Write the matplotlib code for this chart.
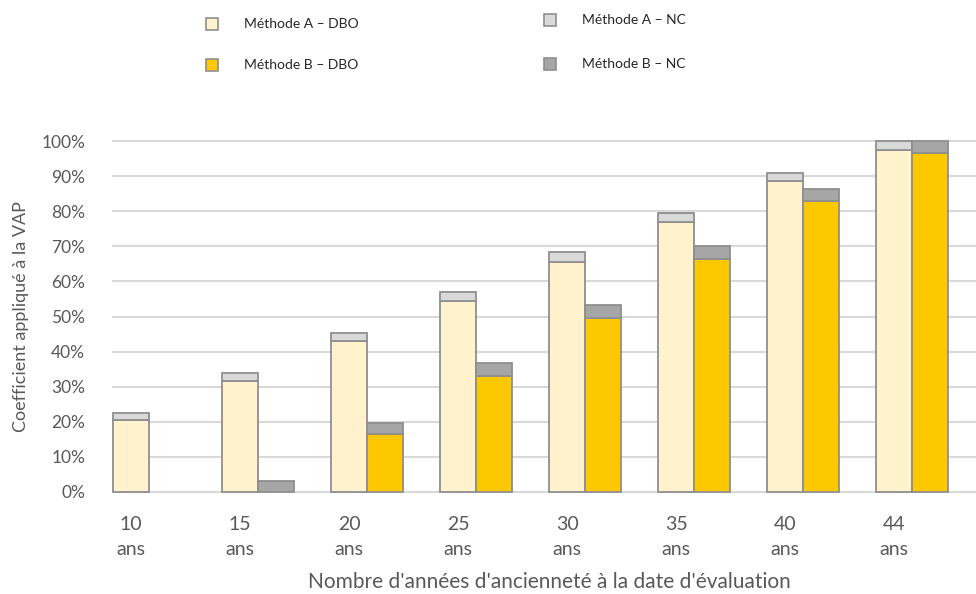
import matplotlib
matplotlib.use("Agg")
import matplotlib.pyplot as plt
from matplotlib.patches import Rectangle
from matplotlib.ticker import PercentFormatter

plt.rcParams["font.family"] = ["Lato", "DejaVu Sans"]

# ----------------------------------------------------------------------
# DATA (% of VAP)
# ----------------------------------------------------------------------
anciennete = ["10\nans", "15\nans", "20\nans", "25\nans", "30\nans", "35\nans", "40\nans", "44\nans"]
a_dbo = [20.5, 31.5, 43.0, 54.5, 65.5, 77.0, 88.5, 97.5]
a_nc = [2.0, 2.4, 2.3, 2.5, 2.8, 2.6, 2.4, 2.5]
b_dbo = [0.0, 0.0, 16.5, 33.0, 49.5, 66.5, 83.0, 96.5]
b_nc = [0.0, 3.2, 3.3, 3.7, 3.8, 3.5, 3.4, 3.5]

C_A_DBO = "#fff2cc"
C_A_NC = "#d9d9d9"
C_B_DBO = "#fdc800"
C_B_NC = "#a6a6a6"
EDGE = "#8f8f8f"
TXT = "#595959"

W = 0.33
x = list(range(len(anciennete)))
xa = [i - W / 2 for i in x]
xb = [i + W / 2 for i in x]

fig = plt.figure(figsize=(9.76, 5.94), dpi=100)
ax = fig.add_axes([113 / 976, 102 / 594, (976 - 113) / 976, 351 / 594])


def stacked(xs, heights, bottoms, color):
    # skip empty segments so no stray outline is drawn
    for xi, h, b in zip(xs, heights, bottoms):
        if h <= 0:
            continue
        ax.bar(xi, h, bottom=b, width=W, color=color, edgecolor=EDGE,
               linewidth=1.3, zorder=3, clip_on=False)


stacked(xa, a_dbo, [0] * len(x), C_A_DBO)
stacked(xa, a_nc, a_dbo, C_A_NC)
stacked(xb, b_dbo, [0] * len(x), C_B_DBO)
stacked(xb, b_nc, b_dbo, C_B_NC)

ax.set_xlim(-W, (976 - 149) / 109)
ax.set_ylim(0, 100)
ax.set_yticks(range(0, 101, 10))
ax.yaxis.set_major_formatter(PercentFormatter(decimals=0))
ax.grid(axis="y", color="#d9d9d9", linewidth=1.5, zorder=0)
ax.set_axisbelow(True)
for s in ax.spines.values():
    s.set_visible(False)
for gl in ax.get_ygridlines():
    gl.set_clip_on(False)

ax.set_xticks(xa)
ax.set_xticklabels(anciennete, linespacing=1.6)
ax.tick_params(axis="both", length=0, labelcolor=TXT)
ax.tick_params(axis="x", pad=17, labelsize=14)
ax.tick_params(axis="y", pad=20, labelsize=12.5)

ax.set_ylabel("Coefficient appliqué à la VAP", fontsize=13, color=TXT, labelpad=9)
fig.text(549 / 976, 1 - 582 / 594, "Nombre d'années d'ancienneté à la date d'évaluation",
         ha="center", va="center", fontsize=15, color=TXT)

# ---------- legend (two columns, drawn by hand) -----------------------
legend_items = [
    ("Méthode A – DBO", C_A_DBO, 212, 24),
    ("Méthode B – DBO", C_B_DBO, 212, 65),
    ("Méthode A – NC", C_A_NC, 550, 20),
    ("Méthode B – NC", C_B_NC, 550, 64),
]
for label, col, px, py in legend_items:
    fig.patches.append(Rectangle(((px - 6) / 976, 1 - (py + 6) / 594), 12 / 976, 12 / 594,
                                 transform=fig.transFigure, facecolor=col,
                                 edgecolor=EDGE, linewidth=1.2))
    fig.text((px + 32) / 976, 1 - py / 594, label, ha="left", va="center",
             fontsize=10, color="#262626")

fig.savefig("out.png", dpi=100)
